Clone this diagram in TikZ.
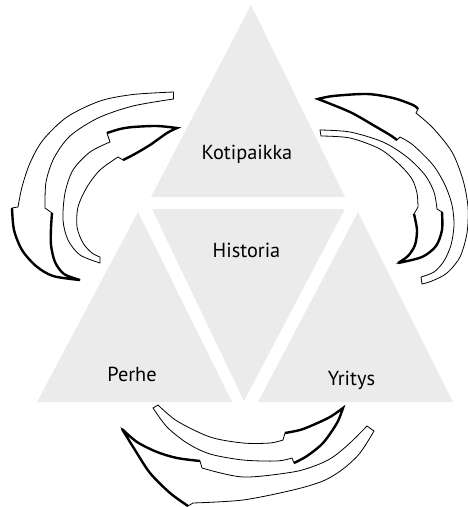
\documentclass[tikz,border=0pt]{standalone}
\usepackage{fontspec}
\setmainfont{PT Sans}
\definecolor{trigray}{RGB}{235,235,235}
\begin{document}
\begin{tikzpicture}[x=1pt,y=-1pt,
  tri/.style={fill=trigray,draw=none},
  arrbody/.style={fill=white,draw=black,line width=0.8pt,line join=miter},
  arrhead/.style={draw=black,line width=2.4pt,line join=miter,miter limit=5},
  lbl/.style={font=\fontsize{20.3}{24}\selectfont,anchor=base,inner sep=0pt}]
\useasboundingbox (0,0) rectangle (468,507);
% triangles
\path[tri] (251,5) -- (345,197) -- (151,197) -- cycle;
\path[tri] (152,209) -- (345,209) -- (244,401) -- cycle;
\path[tri] (138,212) -- (232,402) -- (37,402) -- cycle;
\path[tri] (358,212) -- (453,402) -- (258,402) -- cycle;
% labels
\node[lbl] (koti) at (247,159.3) {Kotipaikka};
\node[lbl] (hist) at (246.5,257) {Historia};
\node[lbl] (perhe) at (132,381) {Perhe};
\node[lbl] (yritys) at (351.5,385) {Yritys};
% ---- left outer arrow L1
\path[arrbody] plot[smooth] coordinates {(173.5,92) (133,94.5) (100,101) (67,117) (43,140) (30,163) (22,187) (18,207)}
  -- plot[smooth] coordinates {(12,208) (14,230) (22,250) (36,266) (53,276) (80,280)}
  -- plot[smooth] coordinates {(80,280) (64,274) (55,262) (51,245) (51,228) (52,213)}
  -- plot[smooth] coordinates {(45,208) (46,182) (54,158) (70,136) (98,118) (133,106) (173.5,99)} -- cycle;
\draw[arrhead] plot[smooth] coordinates {(12,208) (14,230) (22,250) (36,266) (53,276) (80,280)}
  -- plot[smooth] coordinates {(80,280) (64,274) (55,262) (51,245) (51,228) (52,213)};
% ---- left inner arrow L2
\path[arrbody] plot[smooth] coordinates {(100,263) (80,255) (68,240) (63,220) (65,193) (73,170) (90,152) (110,142)}
  -- plot[smooth] coordinates {(107,133) (120,129) (133,127) (157,126) (177,128)}
  -- plot[smooth] coordinates {(177,128) (167,133) (150,145) (133,155) (123,160)}
  -- plot[smooth] coordinates {(118,157) (100,170) (87,187) (78,207) (77,227) (83,243) (92,253) (100,257)} -- cycle;
\draw[arrhead] plot[smooth] coordinates {(107,133) (120,129) (133,127) (157,126) (177,128)}
  -- plot[smooth] coordinates {(177,128) (167,133) (150,145) (133,155) (123,160)};
% ---- right outer arrow R1
\path[arrbody] plot[smooth] coordinates {(422,284) (432,281) (447,273) (460,257) (467,233) (468,207) (463,180) (452,152) (433,128) (416,113)}
  -- plot[smooth] coordinates {(418,109) (413,105) (393,98) (367,94) (333,96) (318,99)}
  -- plot[smooth] coordinates {(318,99) (350,112) (373,125) (390,135) (397,140)}
  -- plot[smooth] coordinates {(400,137) (413,145) (433,165) (445,185) (452,205) (454,225) (451,245) (444,261) (434,272) (421,277)} -- cycle;
\draw[arrhead] plot[smooth] coordinates {(418,109) (413,105) (393,98) (367,94) (333,96) (318,99)}
  -- plot[smooth] coordinates {(318,99) (350,112) (373,125) (390,135) (397,140)};
% ---- right inner arrow R2
\path[arrbody] plot[smooth] coordinates {(320,130) (350,132) (383,142) (407,157) (425,175) (434,192) (437,209)}
  -- plot[smooth] coordinates {(442,212) (442,230) (436,246) (422,257) (398,263)}
  -- plot[smooth] coordinates {(398,263) (408,256) (415,245) (417,230) (414,214)}
  -- plot[smooth] coordinates {(418,207) (417,193) (412,179) (400,165) (380,149) (350,138) (321,136)} -- cycle;
\draw[arrhead] plot[smooth] coordinates {(442,212) (442,230) (436,246) (422,257) (398,263)}
  -- plot[smooth] coordinates {(398,263) (408,256) (415,245) (417,230) (414,214)};
% ---- bottom inner arrow B1
\path[arrbody] plot[smooth] coordinates {(153,408) (167,427) (187,443) (210,454) (243,460) (277,461) (292,458)}
  -- plot[smooth] coordinates {(294,463) (307,456) (323,443) (337,423) (343,408)}
  -- plot[smooth] coordinates {(343,408) (330,417) (313,425) (300,430) (285,433)}
  -- plot[smooth] coordinates {(283,440) (270,443) (243,443) (210,437) (177,421) (158,405)} -- cycle;
\draw[arrhead] plot[smooth] coordinates {(294,463) (307,456) (323,443) (337,423) (343,408)}
  -- plot[smooth] coordinates {(343,408) (330,417) (313,425) (300,430) (285,433)};
% ---- bottom outer arrow B2
\path[arrbody] plot[smooth] coordinates {(374,431) (360,453) (343,469) (323,481) (293,490) (243,500) (193,503)}
  -- plot[smooth] coordinates {(188,506) (170,493) (150,473) (135,450) (122,429)}
  -- plot[smooth] coordinates {(122,429) (137,442) (157,452) (177,458) (200,461)}
  -- plot[smooth] coordinates {(202,468) (243,477) (293,472) (317,465) (333,457) (350,443) (367,426)} -- cycle;
\draw[arrhead] plot[smooth] coordinates {(188,506) (170,493) (150,473) (135,450) (122,429)}
  -- plot[smooth] coordinates {(122,429) (137,442) (157,452) (177,458) (200,461)};
\end{tikzpicture}
\end{document}
